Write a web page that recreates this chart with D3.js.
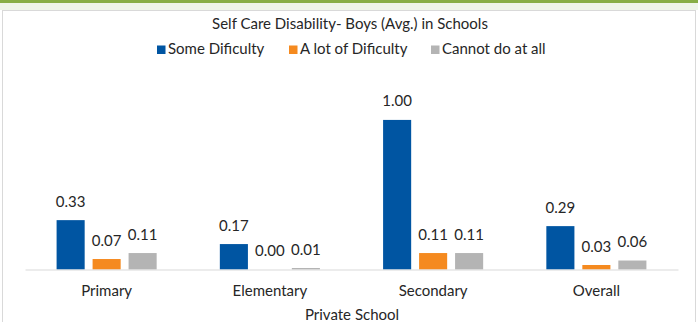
<!DOCTYPE html>
<html>
<head>
<meta charset="utf-8">
<script src="https://cdn.jsdelivr.net/npm/d3@7/dist/d3.min.js"></script>
<style>
  html, body { margin: 0; padding: 0; background: #ffffff; }
  svg { display: block; font-family: Lato, "Open Sans", sans-serif; }
</style>
</head>
<body>
<script>
// Chart data
const categories = ["Primary", "Elementary", "Secondary", "Overall"];
const seriesNames = ["Some Dificulty", "A lot of Dificulty", "Cannot do at all"];
const someDifficulty = [0.33, 0.17, 1.00, 0.29];
const lotOfDifficulty = [0.07, 0.00, 0.11, 0.03];
const cannotDoAtAll = [0.11, 0.01, 0.11, 0.06];
const seriesValues = [someDifficulty, lotOfDifficulty, cannotDoAtAll];
const seriesColors = ["#0055a2", "#f58a1f", "#b4b4b4"];
const chartTitle = "Self Care Disability- Boys (Avg.) in Schools";
const xAxisTitle = "Private School";

const W = 698, H = 322;
const svg = d3.select("body").append("svg").attr("width", W).attr("height", H);

// Frame: green header band, pale strip, bordered chart area
svg.append("rect").attr("x", 0).attr("y", 0).attr("width", W).attr("height", H).attr("fill", "#ffffff");
svg.append("rect").attr("x", 0).attr("y", 0).attr("width", W).attr("height", 10).attr("fill", "#eff4e8");
svg.append("rect").attr("x", 0).attr("y", 0).attr("width", W).attr("height", 3).attr("fill", "#88ad45");
svg.append("rect").attr("x", 2.5).attr("y", 10.5).attr("width", W - 5).attr("height", H)
  .attr("fill", "#ffffff").attr("stroke", "#d9d9d9").attr("stroke-width", 1);

const plot = { left: 25, right: 678, top: 90, bottom: 269.5 };

const x0 = d3.scaleBand().domain(categories).range([plot.left, plot.right])
  .paddingInner(0.387).paddingOuter(0.1935);
const x1 = d3.scaleBand().domain(d3.range(seriesNames.length)).range([0, x0.bandwidth()])
  .paddingInner(0.22);
const y = d3.scaleLinear().domain([0, 1.2]).range([plot.bottom, plot.top]);

const textColor = "#262626";
const fontSize = 15;

// Bars and value labels
const groups = svg.append("g").selectAll("g").data(categories).join("g")
  .attr("transform", d => `translate(${x0(d)},0)`);

groups.each(function (cat, ci) {
  const g = d3.select(this);
  seriesValues.forEach((vals, si) => {
    const v = vals[ci];
    g.append("rect")
      .attr("x", x1(si))
      .attr("y", y(v))
      .attr("width", x1.bandwidth())
      .attr("height", Math.max(0, y(0) - y(v)))
      .attr("fill", seriesColors[si]);
    g.append("text")
      .attr("x", x1(si) + x1.bandwidth() / 2)
      .attr("y", y(v) - 13.5)
      .attr("text-anchor", "middle")
      .attr("font-size", fontSize)
      .attr("fill", textColor)
      .text(v.toFixed(2));
  });
});

// Baseline axis
const xAxis = d3.axisBottom(x0).tickSize(0).tickPadding(16);
const axisG = svg.append("g").attr("transform", `translate(0,${plot.bottom})`).call(xAxis);
axisG.select(".domain").attr("stroke", "#d9d9d9").attr("stroke-width", 1.2);
axisG.selectAll("text").attr("font-size", fontSize).attr("fill", textColor)
  .attr("font-family", "Lato, sans-serif");

// Axis title
svg.append("text").attr("x", 352).attr("y", 320).attr("text-anchor", "middle")
  .attr("font-size", fontSize).attr("fill", textColor).text(xAxisTitle);

// Chart title
svg.append("text").attr("x", 350).attr("y", 28.5).attr("text-anchor", "middle")
  .attr("font-size", fontSize).attr("fill", textColor).text(chartTitle);

// Legend
const legendX = [157, 289, 431];
const legend = svg.append("g").selectAll("g").data(seriesNames).join("g")
  .attr("transform", (d, i) => `translate(${legendX[i]},45.5)`);
legend.append("rect").attr("width", 8.5).attr("height", 8.5).attr("fill", (d, i) => seriesColors[i]);
legend.append("text").attr("x", 11).attr("y", 8.5).attr("font-size", fontSize)
  .attr("fill", textColor).text(d => d);
</script>
</body>
</html>
